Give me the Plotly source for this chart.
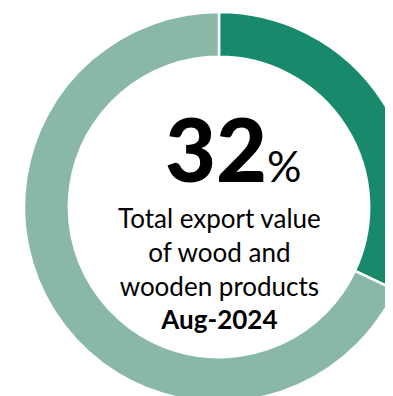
import plotly.graph_objects as go

# share of wood and wooden products in total export value
labels = ["Wood and wooden products", "Other exports"]
shares = [32, 68]
colors = ["#19896b", "#89b9a6"]

headline = "32"
caption_lines = ["Total export value", "of wood and", "wooden products"]
period = "Aug-2024"

# canvas is a bit wider than the window so the ring is cut off at the right
# (the page body adds an 8px offset)
W, H = 406, 394

fig = go.Figure(go.Pie(
    labels=labels,
    values=shares,
    hole=0.77,
    sort=False,
    direction="clockwise",
    rotation=0,
    marker=dict(colors=colors, line=dict(color="white", width=2.5)),
    textinfo="none",
    hoverinfo="label+percent",
    domain=dict(x=[16 / W, 1], y=[0, 390 / H]),
    showlegend=False,
))

fig.add_annotation(
    x=225 / W, y=1 - 140 / H, xref="paper", yref="paper",
    text=f"{headline}<span style='font-size:43px;font-weight:400'>%</span>",
    showarrow=False, xanchor="center", yanchor="middle",
    font=dict(family="Lato", size=88, color="black", weight=900),
)
fig.add_annotation(
    x=211 / W, y=1 - 260 / H, xref="paper", yref="paper",
    text="<br>".join(caption_lines + [f"<b>{period}</b>"]),
    showarrow=False, xanchor="center", yanchor="middle", align="center",
    font=dict(family="Lato", size=26, color="black"),
)

fig.update_layout(
    width=W, height=H,
    margin=dict(l=0, r=0, t=0, b=0),
    paper_bgcolor="white",
    plot_bgcolor="white",
)

fig.write_html("out.html")
